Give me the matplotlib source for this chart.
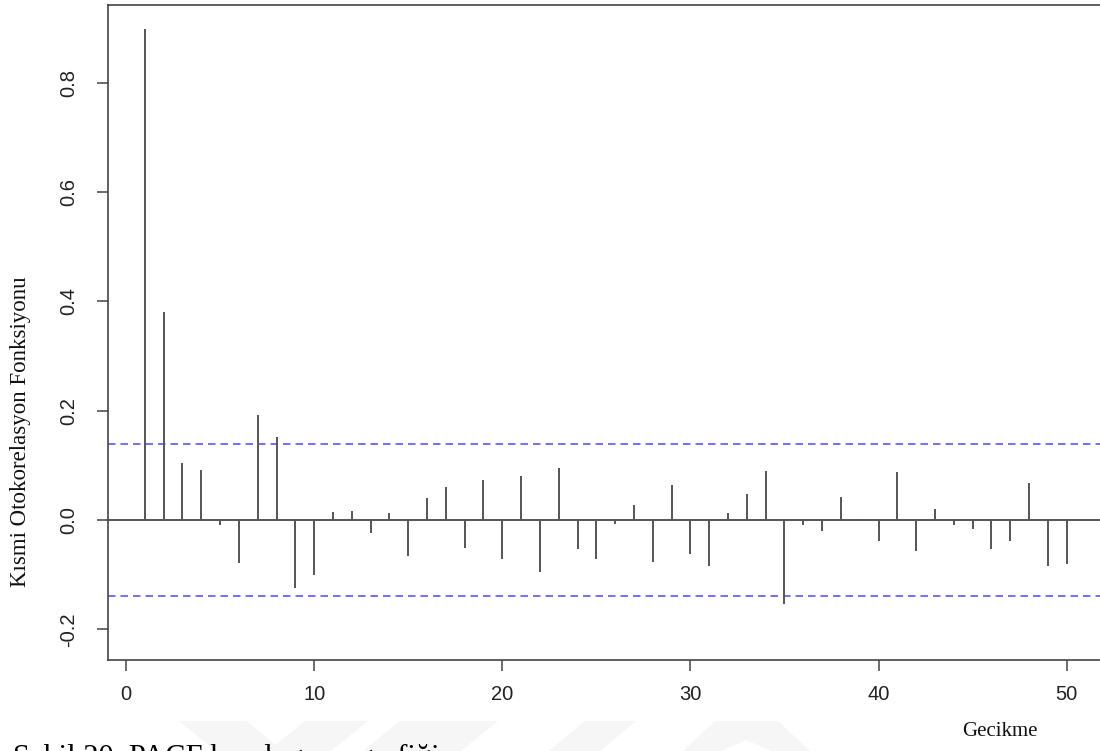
import matplotlib
matplotlib.use("Agg")
import matplotlib.pyplot as plt
from matplotlib.patches import Polygon

# Partial autocorrelation estimates for lags 1..50
lags = list(range(1, 51))
pacf_values = [0.898, 0.381, 0.105, 0.092, -0.010, -0.079, 0.192, 0.152, -0.125, -0.101,
               0.014, 0.017, -0.024, 0.013, -0.065, 0.040, 0.061, -0.051, 0.074, -0.072,
               0.081, -0.095, 0.096, -0.053, -0.071, -0.007, 0.028, -0.076, 0.064, -0.062,
               -0.085, 0.013, 0.048, 0.089, -0.153, -0.010, -0.020, 0.042, 0.002, -0.039,
               0.087, -0.056, 0.021, -0.010, -0.016, -0.053, -0.039, 0.068, -0.084, -0.080]
conf_limit = 0.139

x_ticks = [0, 10, 20, 30, 40, 50]
x_tick_labels = ["0", "10", "20", "30", "40", "50"]
y_ticks = [-0.2, 0.0, 0.2, 0.4, 0.6, 0.8]
y_tick_labels = ["-0.2", "0.0", "0.2", "0.4", "0.6", "0.8"]

y_label = "Kısmi Otokorelasyon Fonksiyonu"
x_label = "Gecikme"
caption = "Şekil 20. PACF korelogram grafiği"

plt.rcParams["lines.scale_dashes"] = False

W, H = 1100, 751
fig = plt.figure(figsize=(W / 100, H / 100), dpi=100)
fig.patch.set_facecolor("white")


def fx(px):
    return px / W


def fy(py):
    return 1 - py / H


# faint page watermark at the bottom
wm_shapes = [
    [(179, 721), (246, 721), (283, 751), (216, 751)],
    [(305, 721), (368, 721), (331, 751), (268, 751)],
    [(400, 721), (498, 721), (461, 751), (363, 751)],
    [(585, 721), (636, 721), (600, 751), (549, 751)],
    [(715, 721), (778, 721), (810, 751), (772, 751), (746, 740), (721, 751), (683, 751)],
]
for shp in wm_shapes:
    fig.patches.append(Polygon([(fx(a), fy(b)) for a, b in shp], closed=True,
                               transform=fig.transFigure, facecolor="#f6f6f6",
                               edgecolor="none", zorder=0))

left, right, top, bottom = 108, 1103.5, 5, 660
ax = fig.add_axes([fx(left), fy(bottom), (right - left) / W, (bottom - top) / H])
ax.set_xlim(-0.957, 51.96)
ax.set_ylim(-0.2562, 0.9424)

ax.vlines(lags, 0, pacf_values, color="#555555", linewidth=1.4, zorder=3)
ax.axhline(0, color="#555555", linewidth=1.4, zorder=2)
for c in (conf_limit, -conf_limit):
    ax.axhline(c, color="#6464ff", linewidth=1.3, linestyle=(0, (5.4, 3.6)), zorder=2)

for side in ("left", "top", "bottom", "right"):
    ax.spines[side].set_color("#444444")
    ax.spines[side].set_linewidth(1.2)

ax.set_xticks(x_ticks)
ax.set_xticklabels(x_tick_labels, fontfamily="Liberation Sans", fontsize=14.5, color="#222222")
ax.set_yticks(y_ticks)
ax.set_yticklabels(y_tick_labels, fontfamily="Liberation Sans", fontsize=14.5, color="#222222",
                   rotation=90, va="center", ha="center")
ax.tick_params(axis="x", length=8, width=1.1, color="#444444", pad=10)
ax.tick_params(axis="y", length=8, width=1.1, color="#444444", pad=20)

fig.text(fx(21), fy(432), y_label, rotation=90, ha="center", va="center",
         fontfamily="Liberation Serif", fontsize=16.5, color="#111111")
fig.text(fx(1000), fy(731), x_label, ha="center", va="center",
         fontfamily="Liberation Serif", fontsize=15, color="#111111")
fig.text(fx(13), fy(766), caption, ha="left", va="baseline",
         fontfamily="Liberation Serif", fontsize=22, color="#000000")

fig.savefig("out.png", dpi=100, facecolor="white")
